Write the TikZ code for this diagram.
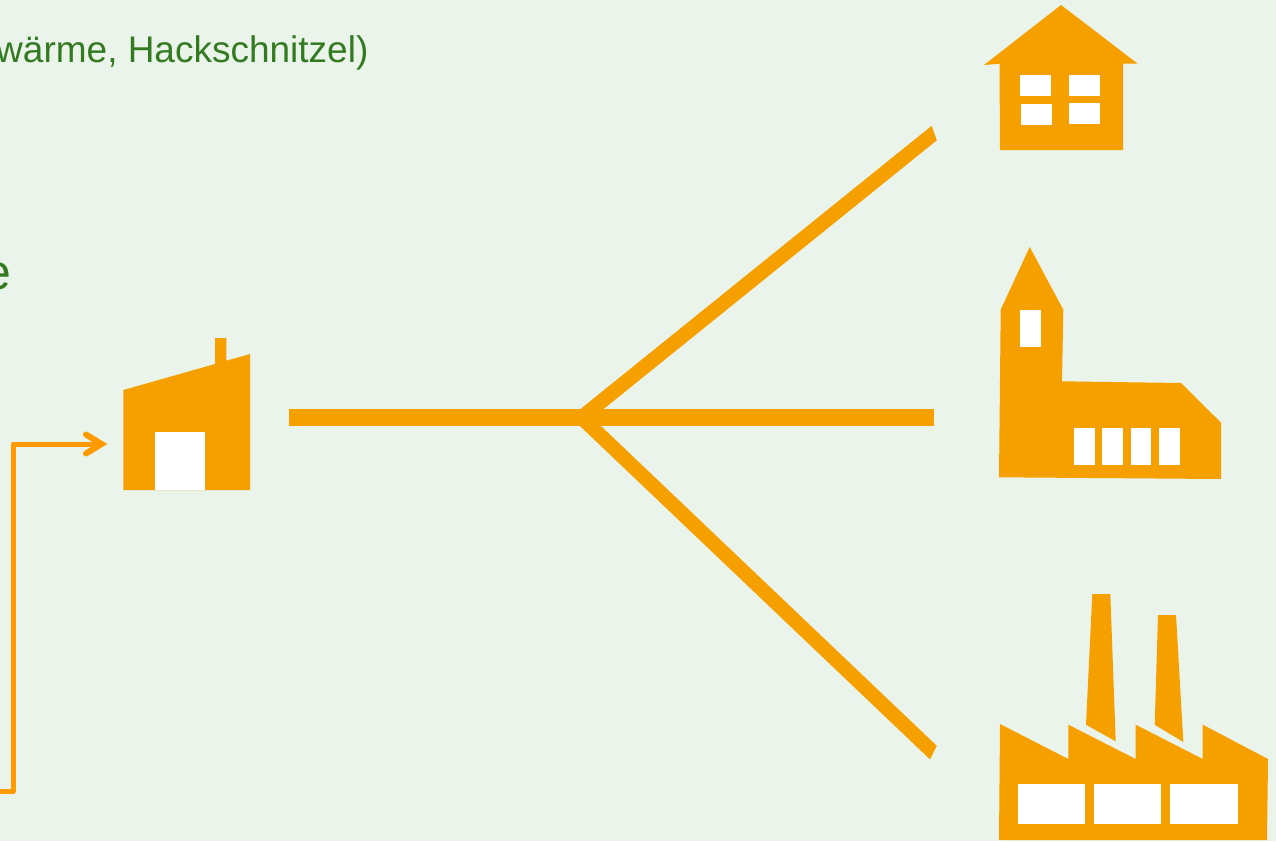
\documentclass[tikz,border=0pt]{standalone}
\usepackage{fontspec}
\setmainfont{Liberation Sans}
\definecolor{bgc}{HTML}{EAF4EA}
\definecolor{org}{HTML}{F6A000}
\definecolor{arr}{HTML}{FF9B00}
\definecolor{grn}{HTML}{337A20}
\tikzset{
  icon/.style={fill=org,draw=none},
  pane/.style={fill=white,draw=none},
  trunk/.style={draw=org,line width=17pt},
  branch/.style={draw=org,line width=14.5pt},
  feed/.style={draw=arr,line width=5pt,line join=round},
  barb/.style={draw=arr,line width=6pt,line cap=round,line join=miter},
  lbl/.style={text=grn,inner sep=0pt,anchor=base east}
}
\begin{document}
\begin{tikzpicture}[x=1pt,y=-1pt]
\useasboundingbox (0,0) rectangle (1276,841);
\fill[bgc] (0,0) rectangle (1276,841);
\clip (0,0) rectangle (1276,841);
% labels
\node[lbl,font=\fontsize{37}{37}\selectfont] (t1) at (368.6,62.6) {wärme, Hackschnitzel)};
\node[lbl,font=\fontsize{50}{50}\selectfont] (t2) at (12,289.5) {e};
% connector points
\coordinate (hub) at (581.5,417.5);
\coordinate (trunkstart) at (289,417.5);
\coordinate (toChurch) at (934,417.5);
\coordinate (toHouse) at (949.8,120.5);
\coordinate (toFactory) at (948,766.5);
\coordinate (feedstart) at (-3,791.7);
\coordinate (feedcorner) at (13,791.7);
\coordinate (feedbend) at (13,444);
\coordinate (feedtip) at (101.5,444);
\begin{scope}
\clip (500,-14) -- (881.7,-14) -- (986.7,280) -- (500,500) -- cycle;
\draw[branch] (hub) -- (toHouse);
\end{scope}
\begin{scope}
\clip (500,400) -- (1111,400) -- (896.5,825.8) -- (500,825.8) -- cycle;
\draw[branch] (hub) -- (toFactory);
\end{scope}
\draw[trunk] (trunkstart) -- (toChurch);
\draw[feed] (feedstart) -- (feedcorner) -- (feedbend) -- (feedtip);
\draw[barb] (86,434.5) -- (feedtip) -- (86,453.5);
% boiler house
\fill[icon] (123.3,390) -- (215,364) -- (215,338) -- (226.3,338) -- (226.3,360.7) -- (250,354) -- (250,490) -- (123.3,490) -- cycle;
\fill[pane] (154.7,432) rectangle (205,490);
% house
\fill[icon] (1061,5) -- (1137.7,63.7) -- (1123,63.7) -- (1123,150) -- (1000,150) -- (999.5,63.7) -- (984,65) -- cycle;
\fill[pane] (1020.3,75) rectangle (1051.3,95.7);
\fill[pane] (1069.3,75) rectangle (1100.3,95.7);
\fill[pane] (1020.7,104) rectangle (1051.7,124.7);
\fill[pane] (1069.3,103.3) rectangle (1100.3,124);
% church
\fill[icon] (1029.7,247) -- (1063.3,309.7) -- (1062,381.3) -- (1181,383) -- (1221,422.7) -- (1221,479) -- (999,477.3) -- (1000.7,309.7) -- cycle;
\fill[pane] (1020.3,309.7) rectangle (1041,346.7);
\fill[pane] (1074,428) rectangle (1094.7,465);
\fill[pane] (1102.3,428) rectangle (1123,465);
\fill[pane] (1130.7,428) rectangle (1151.3,465);
\fill[pane] (1159,428) rectangle (1179.7,465);
% factory
\fill[icon] (1000,724) -- (1068.3,759) -- (1068.3,724.7) -- (1135.7,759) -- (1135.7,724.7) -- (1202.7,759) -- (1202.7,724.7) -- (1268,759) -- (1267,840) -- (999,840) -- cycle;
\fill[icon] (1092.3,594) -- (1110.3,594) -- (1115.7,741.3) -- (1086,724.7) -- cycle;
\fill[icon] (1158,615) -- (1176,615) -- (1183.3,742) -- (1154.7,724.7) -- cycle;
\fill[pane] (1017.7,783.7) rectangle (1085.3,823.7);
\fill[pane] (1094,783.7) rectangle (1161.3,823.7);
\fill[pane] (1170,783.7) rectangle (1237.7,823.7);
\end{tikzpicture}
\end{document}
